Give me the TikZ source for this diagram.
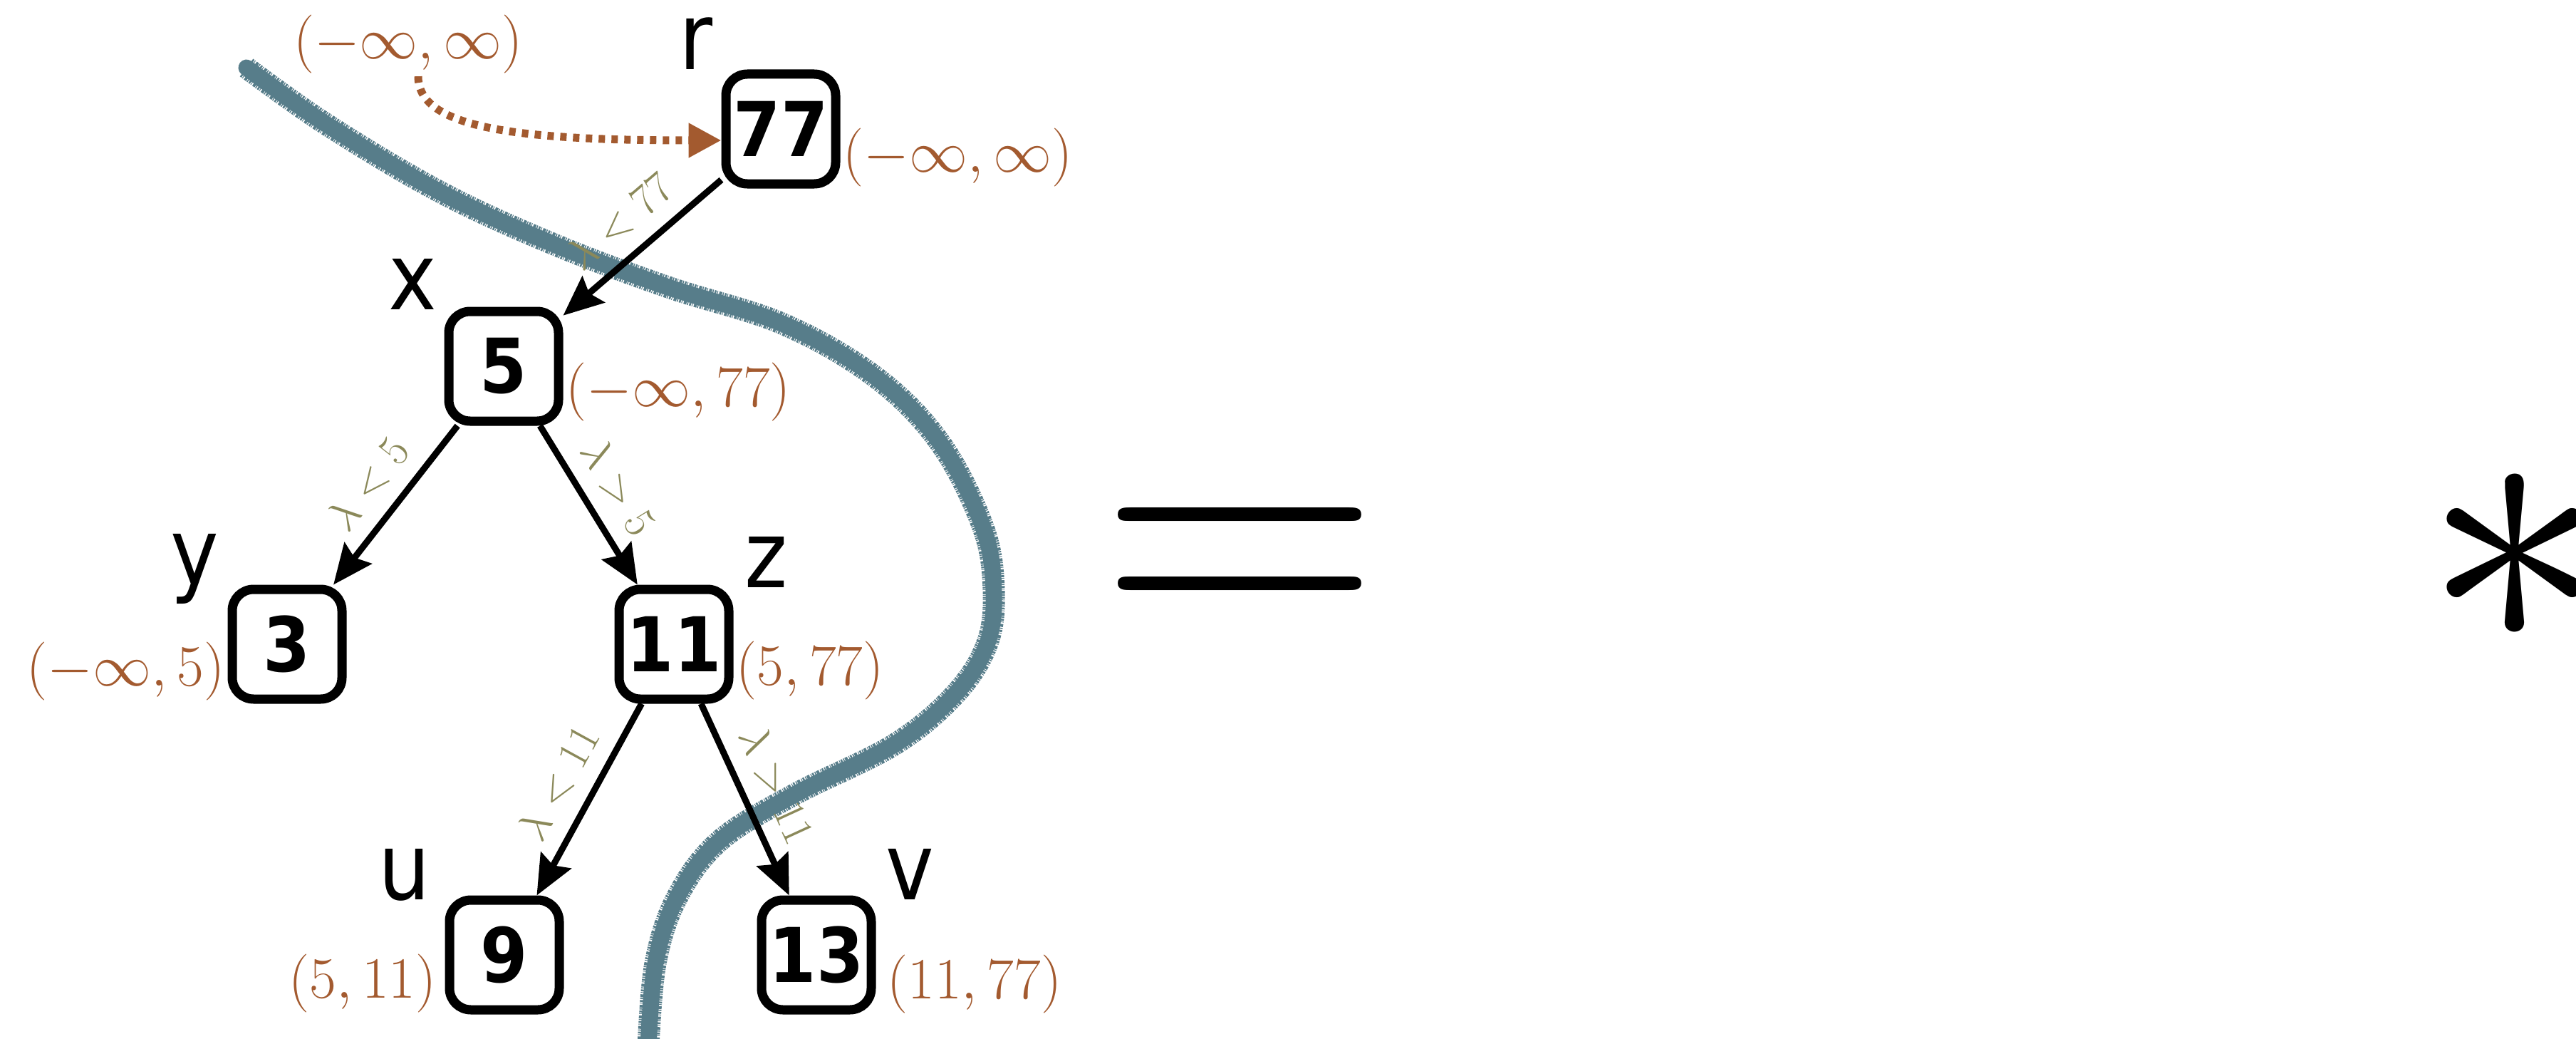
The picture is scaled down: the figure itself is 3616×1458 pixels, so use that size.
\RequirePackage{fix-cm}
\documentclass[tikz,border=0pt]{standalone}
\usepackage{fontspec}
\newfontfamily\numfont[FakeStretch=0.9]{DejaVu Sans}
\newfontfamily\labfont[FakeStretch=0.88]{DejaVu Sans}
\usetikzlibrary{arrows.meta,calc}
\definecolor{ivcol}{HTML}{A35A2F}
\definecolor{elcol}{HTML}{8B895A}
\definecolor{curvecol}{HTML}{577D8A}
\tikzset{
  keybox/.style={draw, line width=13pt, rounded corners=30pt, minimum width=154pt, minimum height=154pt, inner sep=0pt, font=\numfont\bfseries\fontsize{106}{106}\selectfont},
  vlab/.style={inner sep=0pt, font=\labfont\fontsize{130}{130}\selectfont},
  iv/.style={inner sep=4pt, text=ivcol, font=\fontsize{82}{82}\selectfont},
  edge/.style={line width=9pt, -{Stealth[length=56pt,width=48pt,inset=8pt]}},
  elab/.style={sloped, above, pos=0.5, inner sep=22pt, text=elcol, font=\fontsize{62}{62}\selectfont},
  dotarrow/.style={draw=ivcol, line width=11pt, dash pattern=on 9pt off 9pt, -{Triangle[length=46pt,width=46pt]}},
  cutcore/.style={draw=curvecol, line width=2.3pt, line cap=round, line join=round},
  cutfringe/.style={draw=curvecol, line width=3.1pt, line cap=butt, line join=round, dash pattern=on 0.25pt off 0.12pt on 0.1pt off 0.2pt on 0.4pt off 0.1pt on 0.15pt off 0.15pt},
}
\begin{document}
\begin{tikzpicture}[x=1pt, y=-1pt]
\useasboundingbox (0,0) rectangle (3616,1458);
% cut curve
\begin{scope}[transform canvas={scale=10}]
\draw[cutfringe] plot[smooth, tension=0.6] coordinates {(34.6,9.5) (45.9,17.5) (61.9,27.0) (77.8,34.3) (93.8,40.3) (110.0,45.5) (123.0,53.0) (132.0,62.2) (138.0,74.0) (139.5,83.0) (138.5,90.5) (134.0,97.5) (125.5,104.5) (111.5,111.5) (101.0,118.0) (95.0,126.0) (92.0,135.2) (91.0,147.0)};
\draw[cutcore] plot[smooth, tension=0.6] coordinates {(34.6,9.5) (45.9,17.5) (61.9,27.0) (77.8,34.3) (93.8,40.3) (110.0,45.5) (123.0,53.0) (132.0,62.2) (138.0,74.0) (139.5,83.0) (138.5,90.5) (134.0,97.5) (125.5,104.5) (111.5,111.5) (101.0,118.0) (95.0,126.0) (92.0,135.2) (91.0,147.0)};
\end{scope}
% nodes
\node[keybox] (r) at (1096,181) {77};
\node[keybox] (x) at (707,514) {5};
\node[keybox] (y) at (403,904) {3};
\node[keybox] (z) at (946,904) {11};
\node[keybox] (u) at (708,1340) {9};
\node[keybox] (v) at (1146,1340) {13};
% vertex names
\node[vlab, anchor=base east] (lr) at ($(r.north west)+(-12,0)$) {r};
\node[vlab, anchor=base east] (lx) at ($(x.north west)+(-10,4)$) {x};
\node[vlab, anchor=base east] (ly) at ($(y.north west)+(-12,0)$) {y};
\node[vlab, anchor=base west] (lz) at ($(z.north east)+(16,4)$) {z};
\node[vlab, anchor=base east] (lu) at ($(u.north west)+(-20,6)$) {u};
\node[vlab, anchor=base west] (lv) at ($(v.north east)+(14,6)$) {v};
% intervals
\node[iv] (itop) at (573,62) {$(-\infty,\infty)$};
\node[iv, anchor=west] (ir) at ($(r.east)+(0,40)$) {$(-\infty,\infty)$};
\node[iv, anchor=west] (ix) at ($(x.east)+(0,36)$) {$(-\infty,77)$};
\node[iv, anchor=east] (iy) at ($(y.west)+(0,38)$) {$(-\infty,5)$};
\node[iv, anchor=west] (iz) at ($(z.east)+(0,37)$) {$(5,77)$};
\node[iv, anchor=east] (iu) at ($(u.west)+(-8,40)$) {$(5,11)$};
\node[iv, anchor=west] (iv) at ($(v.east)+(12,41)$) {$(11,77)$};
% dotted arrow
\draw[dotarrow] ($(itop.south)+(14,0)$) .. controls +(0,70) and +(-300,0) .. ($(r.west)+(0,16)$);
% edges
\draw[edge] (r) -- node[elab] (e1) {$\lambda<77$} (x);
\draw[edge] (x) -- node[elab] (e2) {$\lambda<5$} (y);
\draw[edge] (x) -- node[elab] (e3) {$\lambda>5$} (z);
\draw[edge] (z) -- node[elab] (e4) {$\lambda<11$} (u);
\draw[edge] (z) -- node[elab] (e5) {$\lambda>11$} (v);
% equals and asterisk
\node[inner sep=0pt, font=\fontsize{545}{545}\selectfont] (eq) at (1741,810) {$=$};
\node[inner sep=0pt, font=\fontsize{515}{515}\selectfont] (ast) at (3530,785) {$\ast$};
\end{tikzpicture}
\end{document}
